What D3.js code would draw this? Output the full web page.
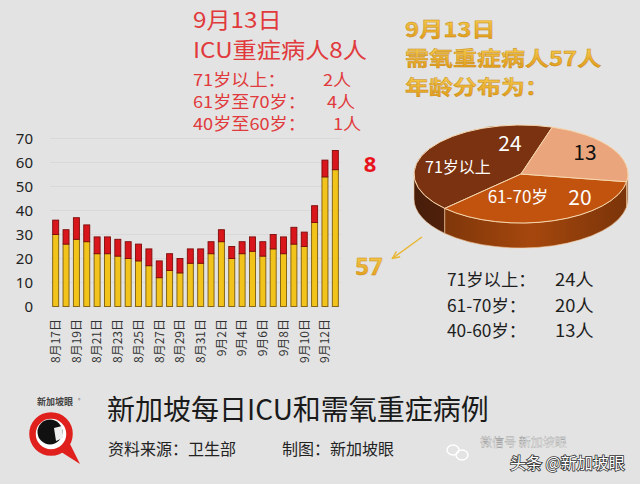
<!DOCTYPE html>
<html>
<head>
<meta charset="utf-8">
<script src="https://cdn.jsdelivr.net/npm/d3@7"></script>
<style>
  html, body { margin: 0; padding: 0; background: #e4e4e4; }
  svg text { font-family: "Noto Sans CJK SC", "Noto Sans", sans-serif; }
</style>
</head>
<body>
<div id="chart"></div>
<script>
// 每日病例 (8月17日 - 9月13日)
const dates = [
  "8月17日", "8月18日", "8月19日", "8月20日", "8月21日", "8月22日", "8月23日",
  "8月24日", "8月25日", "8月26日", "8月27日", "8月28日", "8月29日", "8月30日",
  "8月31日", "9月1日", "9月2日", "9月3日", "9月4日", "9月5日", "9月6日",
  "9月7日", "9月8日", "9月9日", "9月10日", "9月11日", "9月12日", "9月13日"
];
// 需氧 (黄色)
const oxygenCases = [30, 26, 28, 27, 22, 22, 21, 20, 19, 17, 12, 15, 14, 18,
                     18, 22, 27, 20, 22, 23, 21, 24, 22, 26, 25, 35, 54, 57];
// ICU (红色)
const icuCases = [6, 6, 9, 7, 7, 7, 7, 7, 7, 7, 7, 7, 6, 6,
                  6, 5, 5, 5, 5, 6, 6, 6, 7, 7, 6, 7, 7, 8];
const yTicks = [0, 10, 20, 30, 40, 50, 60, 70];

// 需氧重症 年龄分布
const ageGroups = ["71岁以上", "61-70岁", "40-60岁"];
const ageCounts = [24, 20, 13];

// ICU 年龄分布
const icuAges = ["71岁以上：", "61岁至70岁：", "40岁至60岁："];
const icuAgeCounts = [2, 4, 1];

const width = 640;
const height = 484;

const svg = d3.select("#chart")
    .append("svg")
    .attr("width", width)
    .attr("height", height);

const defs = svg.append("defs");

// 背景纹理
const noise = defs.append("filter").attr("id", "noise")
    .attr("filterUnits", "userSpaceOnUse")
    .attr("x", 0).attr("y", 0).attr("width", width).attr("height", height);
noise.append("feTurbulence")
    .attr("type", "fractalNoise")
    .attr("baseFrequency", 1.0)
    .attr("numOctaves", 2)
    .attr("seed", 5);
noise.append("feColorMatrix")
    .attr("type", "matrix")
    .attr("values", "2.6 0 0 0 -0.65  2.6 0 0 0 -0.65  2.6 0 0 0 -0.65  0 0 0 0 0.13");

svg.append("rect")
    .attr("width", width).attr("height", height)
    .attr("fill", "#e5e5e5");
svg.append("rect")
    .attr("width", width).attr("height", height)
    .attr("fill", "#fff")
    .attr("filter", "url(#noise)");

// 横向略宽的文字
const wideText = (g, x, y, str, size, sx = 1.1) =>
    g.append("text")
        .attr("transform", `translate(${x},${y}) scale(${sx},1)`)
        .style("font-size", size + "px")
        .text(str);

// ---------- 柱状图 ----------
const x = d3.scaleBand()
    .domain(dates)
    .range([50.5, 340.5])
    .paddingInner(0.42)
    .paddingOuter(0.21);

const y = d3.scaleLinear()
    .domain([0, 70])
    .range([306.5, 138.5]);

svg.append("g")
    .selectAll("line")
    .data(yTicks)
    .enter()
    .append("line")
    .attr("x1", 50).attr("x2", 341)
    .attr("y1", d => y(d)).attr("y2", d => y(d))
    .attr("stroke", "#d2d2d2")
    .attr("stroke-width", 0.6);

const yAxis = svg.append("g")
    .attr("transform", "translate(38,0)")
    .call(d3.axisLeft(y).tickValues(yTicks).tickSize(0).tickPadding(5));
yAxis.select(".domain").remove();
yAxis.selectAll("text")
    .attr("fill", "#222")
    .style("font-size", "15px")
    .style("font-family", "'Noto Sans', sans-serif");

const bars = svg.append("g");
bars.selectAll(".oxygen")
    .data(dates)
    .enter()
    .append("rect")
    .attr("class", "oxygen")
    .attr("x", d => x(d))
    .attr("y", (d, i) => y(oxygenCases[i]))
    .attr("width", x.bandwidth())
    .attr("height", (d, i) => y(0) - y(oxygenCases[i]))
    .attr("fill", "#f2c31a")
    .attr("stroke", "#7a5a10")
    .attr("stroke-width", 0.9);

bars.selectAll(".icu")
    .data(dates)
    .enter()
    .append("rect")
    .attr("class", "icu")
    .attr("x", d => x(d))
    .attr("y", (d, i) => y(oxygenCases[i] + icuCases[i]))
    .attr("width", x.bandwidth())
    .attr("height", (d, i) => y(oxygenCases[i]) - y(oxygenCases[i] + icuCases[i]))
    .attr("fill", "#d8161b")
    .attr("stroke", "#7d0c0c")
    .attr("stroke-width", 0.9);

// 日期标签 (隔天一个)
svg.append("g")
    .selectAll("text")
    .data(dates.filter((d, i) => i % 2 === 0 && i < dates.length - 1))
    .enter()
    .append("text")
    .attr("transform", d => `translate(${x(d) + x.bandwidth() / 2},319) rotate(-90)`)
    .attr("text-anchor", "end")
    .attr("dy", "0.36em")
    .attr("fill", "#333")
    .style("font-size", "12px")
    .text(d => d);

// ---------- 左上 红字 ----------
const redBlock = svg.append("g").attr("fill", "#e13a3c");
wideText(redBlock, 193, 28, "9月13日", 22);
wideText(redBlock, 193, 58, "ICU重症病人8人", 22);
const countX = [323, 327, 333];
icuAges.forEach((label, i) => {
    wideText(redBlock, 193, 86 + i * 22, label, 16.5, 1.1);
    wideText(redBlock, countX[i], 86 + i * 22, icuAgeCounts[i] + "人", 16.5, 1.1);
});

// ---------- 右上 金色字 ----------
const gold = defs.append("linearGradient").attr("id", "gold")
    .attr("x1", 0).attr("y1", 0).attr("x2", 0).attr("y2", 1);
gold.append("stop").attr("offset", "0%").attr("stop-color", "#f9d65a");
gold.append("stop").attr("offset", "100%").attr("stop-color", "#de9412");

const goldBlock = svg.append("g")
    .attr("fill", "url(#gold)")
    .attr("stroke", "#c98a14")
    .attr("stroke-width", 0.4)
    .style("font-weight", "bold");
wideText(goldBlock, 405, 37, "9月13日", 20, 1.2);
wideText(goldBlock, 405, 66, "需氧重症病人57人", 20, 1.2);
wideText(goldBlock, 405, 95, "年龄分布为：", 20, 1.2);

// 最新一天数值
svg.append("text")
    .attr("x", 370).attr("y", 172)
    .attr("text-anchor", "middle")
    .attr("fill", "#e8141c")
    .style("font-size", "22px").style("font-weight", "bold")
    .style("font-family", "'Noto Sans', sans-serif")
    .text(icuCases[icuCases.length - 1]);
svg.append("text")
    .attr("x", 369).attr("y", 275)
    .attr("text-anchor", "middle")
    .attr("fill", "url(#gold)")
    .attr("stroke", "#c98a14").attr("stroke-width", 0.4)
    .style("font-size", "24px").style("font-weight", "bold")
    .style("font-family", "'Noto Sans', sans-serif")
    .text(oxygenCases[oxygenCases.length - 1]);

// 箭头
defs.append("marker").attr("id", "arrow")
    .attr("viewBox", "0 0 10 10").attr("refX", 8).attr("refY", 5)
    .attr("markerWidth", 6).attr("markerHeight", 6)
    .attr("orient", "auto-start-reverse")
    .append("path").attr("d", "M0,1 L9,5 L0,9").attr("fill", "none")
    .attr("stroke", "#e8b630").attr("stroke-width", 1.6);
svg.append("line")
    .attr("x1", 422).attr("y1", 237).attr("x2", 393).attr("y2", 258)
    .attr("stroke", "#e8b630").attr("stroke-width", 1.4)
    .attr("marker-end", "url(#arrow)");

// ---------- 3D 饼图 ----------
const cx = 521, cy = 174, rx = 107, ry = 49, depth = 25;
const pieColors = {
    "71岁以上": "#7a3211",
    "61-70岁": "#c2530f",
    "40-60岁": "#eba57c"
};
const pieData = ageGroups.map((g, i) => ({ group: g, count: ageCounts[i] }));
const start = 17 * Math.PI / 180;
const slices = d3.pie()
    .value(d => d.count)
    .sort((a, b) => a.count - b.count)
    .startAngle(start)
    .endAngle(start + 2 * Math.PI)(pieData);

const pt = (t, dy = 0) => [cx + rx * Math.cos(t), cy + ry * Math.sin(t) + dy];

// 侧面渐变
ageGroups.forEach((g, i) => {
    const base = d3.color(pieColors[g]);
    const grad = defs.append("linearGradient").attr("id", "side" + i)
        .attr("gradientUnits", "userSpaceOnUse")
        .attr("x1", cx - rx).attr("x2", cx + rx).attr("y1", 0).attr("y2", 0);
    grad.append("stop").attr("offset", "0%").attr("stop-color", base.darker(1.5));
    grad.append("stop").attr("offset", "55%").attr("stop-color", base.darker(0.45));
    grad.append("stop").attr("offset", "100%").attr("stop-color", base.darker(1.3));
});

const pie = svg.append("g");

slices.forEach(s => {
    const t1 = s.startAngle - Math.PI / 2;
    const t2 = s.endAngle - Math.PI / 2;
    [[0, Math.PI], [2 * Math.PI, 3 * Math.PI]].forEach(([lo, hi]) => {
        const a = Math.max(t1, lo), b = Math.min(t2, hi);
        if (b <= a) return;
        const p1 = pt(a), p2 = pt(b), p3 = pt(b, depth), p4 = pt(a, depth);
        pie.append("path")
            .attr("d", `M${p1}A${rx},${ry} 0 0 1 ${p2}L${p3}A${rx},${ry} 0 0 0 ${p4}Z`)
            .attr("fill", `url(#side${ageGroups.indexOf(s.data.group)})`)
            .attr("stroke", "#f3c89a")
            .attr("stroke-width", 0.6);
    });
});

slices.forEach(s => {
    const t1 = s.startAngle - Math.PI / 2;
    const t2 = s.endAngle - Math.PI / 2;
    const large = (t2 - t1) > Math.PI ? 1 : 0;
    pie.append("path")
        .attr("d", `M${cx},${cy}L${pt(t1)}A${rx},${ry} 0 ${large} 1 ${pt(t2)}Z`)
        .attr("fill", pieColors[s.data.group])
        .attr("stroke", "#f6d6ac")
        .attr("stroke-width", 1);
});

// 饼图标签
const pieLabels = [
    { text: ageCounts[0], dx: -11, dy: -31, fill: "#fff", size: 21 },
    { text: ageGroups[0], dx: -63, dy: -7, fill: "#fff", size: 16 },
    { text: ageCounts[2], dx: 64, dy: -22, fill: "#111", size: 21 },
    { text: ageGroups[1], dx: -3, dy: 23, fill: "#fff", size: 17 },
    { text: ageCounts[1], dx: 59, dy: 23, fill: "#fff", size: 21 }
];
pie.selectAll(".pie-label")
    .data(pieLabels)
    .enter()
    .append("text")
    .attr("class", "pie-label")
    .attr("x", d => cx + d.dx)
    .attr("y", d => cy + d.dy)
    .attr("text-anchor", "middle")
    .attr("dy", "0.36em")
    .attr("fill", d => d.fill)
    .style("font-size", d => d.size + "px")
    .text(d => d.text);

// 年龄分布文字
const legend = svg.append("g").attr("fill", "#1e1e1e");
ageGroups.forEach((g, i) => {
    wideText(legend, 447, 286 + i * 25.5, g + "：", 17, 1.02);
    wideText(legend, 555, 286 + i * 25.5, ageCounts[i] + "人", 17, 1.08);
});

// ---------- 底部 ----------
const logo = svg.append("g");
logo.append("path")
    .attr("d", "M58,450 L80,464 L70,444 Z")
    .attr("fill", "#e0201c");
logo.append("circle").attr("cx", 51).attr("cy", 434).attr("r", 18.5)
    .attr("fill", "#fff").attr("stroke", "#e0201c").attr("stroke-width", 6.5);
logo.append("circle").attr("cx", 50).attr("cy", 432).attr("r", 12.5).attr("fill", "#111");
logo.append("path")
    .attr("d", "M54,428 L62,426 L63,438 L56,441 Z")
    .attr("fill", "#eee");
logo.append("text").attr("x", 37).attr("y", 405)
    .attr("fill", "#444").style("font-size", "9px").style("font-weight", "bold")
    .text("新加坡眼");
logo.append("text").attr("x", 78).attr("y", 402)
    .attr("fill", "#666").style("font-size", "5px").text("®");

svg.append("text").attr("x", 107).attr("y", 420)
    .attr("fill", "#1a1a1a").style("font-size", "28px")
    .text("新加坡每日ICU和需氧重症病例");
svg.append("text").attr("x", 108).attr("y", 455)
    .attr("fill", "#222").style("font-size", "16px")
    .text("资料来源：卫生部");
svg.append("text").attr("x", 282).attr("y", 455)
    .attr("fill", "#222").style("font-size", "16px")
    .text("制图：新加坡眼");

// 水印
const wm = svg.append("g");
wm.append("ellipse").attr("cx", 453).attr("cy", 450).attr("rx", 6).attr("ry", 5)
    .attr("fill", "none").attr("stroke", "#fff").attr("stroke-width", 1.4);
wm.append("ellipse").attr("cx", 462).attr("cy", 455).attr("rx", 6).attr("ry", 5)
    .attr("fill", "none").attr("stroke", "#fff").attr("stroke-width", 1.4);
wm.append("text").attr("x", 480).attr("y", 447)
    .attr("fill", "#f4f4f4").attr("stroke", "#999").attr("stroke-width", 0.3)
    .style("font-size", "12px").text("微信号 新加坡眼");
wm.append("text").attr("x", 510).attr("y", 469)
    .attr("fill", "#fff").attr("stroke", "#333").attr("stroke-width", 1.6)
    .style("paint-order", "stroke")
    .style("font-size", "16px").text("头条 @新加坡眼");
</script>
</body>
</html>
